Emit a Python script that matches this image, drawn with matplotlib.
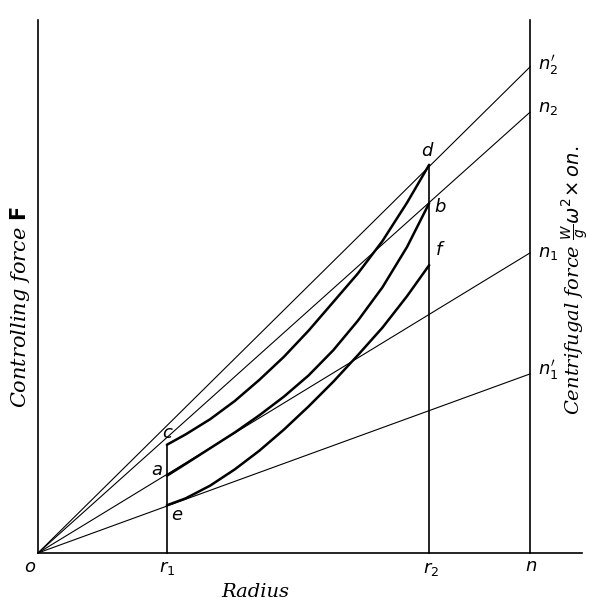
import numpy as np
import matplotlib
matplotlib.use("Agg")
import matplotlib.pyplot as plt

# radius positions (o at 0)
r1 = 2.62
r2 = 7.95
rn = 10.0
top = 10.83

# rays from o, value at n
ray_names = ["$n_2'$", "$n_2$", "$n_1$", "$n_1'$"]
ray_ends = [9.88, 8.96, 6.10, 3.64]
ray_label_y = [9.92, 9.04, 6.10, 3.72]

# controlling force curves
curve_x = [2.62, 3.0, 3.5, 4.0, 4.5, 5.0, 5.5, 6.0, 6.5, 7.0, 7.5, 7.95]
cd_y = [2.20, 2.41, 2.72, 3.09, 3.52, 3.99, 4.52, 5.10, 5.68, 6.34, 7.12, 7.89]
ab_y = [1.57, 1.81, 2.13, 2.45, 2.80, 3.18, 3.61, 4.12, 4.72, 5.40, 6.22, 7.11]
ef_y = [0.97, 1.11, 1.37, 1.70, 2.08, 2.51, 2.98, 3.48, 4.02, 4.58, 5.22, 5.85]

plt.rcParams["mathtext.fontset"] = "dejavusans"

fig = plt.figure(figsize=(5.94, 6.05), dpi=100)
ax = fig.add_axes([0, 0, 1, 1])
ax.set_xlim(-0.772, 11.30)
ax.set_ylim(-1.057, 11.24)
ax.axis("off")

k = "black"
# frame lines
ax.plot([0, 0], [0, top], color=k, lw=1.2)
ax.plot([rn, rn], [0, top], color=k, lw=1.2)
ax.plot([0, 11.05], [0, 0], color=k, lw=1.2)
ax.plot([r1, r1], [0, cd_y[0]], color=k, lw=1.2)
ax.plot([r2, r2], [0, cd_y[-1]], color=k, lw=1.2)

# straight lines from o
for yend in ray_ends:
    ax.plot([0, rn], [0, yend], color=k, lw=0.8)

# curves
for ys in [cd_y, ab_y, ef_y]:
    ax.plot(curve_x, ys, color=k, lw=1.8, solid_capstyle="round",
            solid_joinstyle="round")

# point labels
fs = 13
ax.text(-0.16, -0.28, "$o$", fontsize=fs, ha="center", va="center")
ax.text(r1, -0.30, "$r_1$", fontsize=fs, ha="center", va="center")
ax.text(r2 + 0.04, -0.32, "$r_2$", fontsize=fs, ha="center", va="center")
ax.text(rn + 0.02, -0.26, "$n$", fontsize=fs, ha="center", va="center")
ax.text(2.64, 2.44, "$c$", fontsize=fs, ha="center", va="center")
ax.text(2.42, 1.69, "$a$", fontsize=fs, ha="center", va="center")
ax.text(2.82, 0.77, "$e$", fontsize=fs, ha="center", va="center")
ax.text(7.93, 8.18, "$d$", fontsize=fs, ha="center", va="center")
ax.text(8.18, 7.03, "$b$", fontsize=fs, ha="center", va="center")
ax.text(8.18, 6.16, "$f$", fontsize=fs, ha="center", va="center")
for name, yl in zip(ray_names, ray_label_y):
    ax.text(10.16, yl, name, fontsize=fs, ha="left", va="center")

# axis titles
ax.text(4.41, -0.80, "Radius", fontsize=14, family="DejaVu Serif",
        style="italic", ha="center", va="center")
ax.text(-0.36, 5.0, r"Controlling force $\mathbf{F}$", fontsize=15,
        family="DejaVu Serif", style="italic", rotation=90,
        ha="center", va="center")
ax.text(10.93, 5.55, r"Centrifugal force $\frac{W}{g}\omega^2\!\times on.$",
        fontsize=14, family="DejaVu Serif", style="italic", rotation=90,
        ha="center", va="center")

fig.savefig("out.png", dpi=100, facecolor="white")
